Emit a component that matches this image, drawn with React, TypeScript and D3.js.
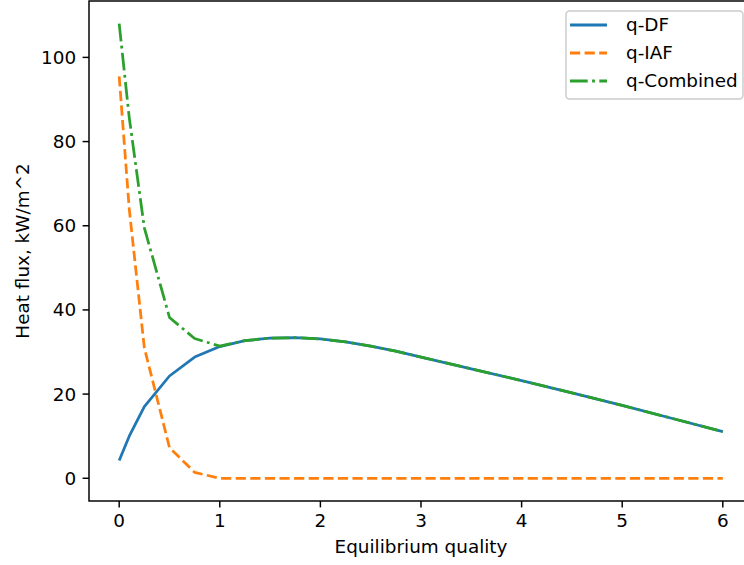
import React from "react";
import * as d3 from "d3";

const xQuality = [0, 0.1, 0.25, 0.5, 0.75, 1, 1.25, 1.5, 1.75, 2, 2.25, 2.5, 2.75, 3, 3.5, 4, 4.5, 5, 5.5, 6];
const qDF = [4.2, 10, 17, 24.3, 28.8, 31.3, 32.7, 33.3, 33.4, 33.1, 32.4, 31.4, 30.2, 28.8, 26.0, 23.2, 20.3, 17.3, 14.2, 11.1];
const qIAF = [95.5, 64, 31, 7.3, 1.4, 0, 0, 0, 0, 0, 0, 0, 0, 0, 0, 0, 0, 0, 0, 0];
const qCombined = [108, 85.7, 59.5, 38.2, 33.2, 31.4, 32.7, 33.3, 33.4, 33.1, 32.4, 31.4, 30.2, 28.8, 26.0, 23.2, 20.3, 17.3, 14.2, 11.1];

const xTicks = [0, 1, 2, 3, 4, 5, 6];
const yTicks = [0, 20, 40, 60, 80, 100];

const seriesNames = ["q-DF", "q-IAF", "q-Combined"];
const seriesColors = ["#1f77b4", "#ff7f0e", "#2ca02c"];
const seriesDash = ["none", "10.2 4.4", "17.7 4.4 2.8 4.4"];
const seriesData = [qDF, qIAF, qCombined];

const W = 744;
const H = 565;
const left = 89;
const right = 753;
const top = 1;
const bottom = 501;
const FS = 18.4;
const font = "'DejaVu Sans', sans-serif";

export default function App() {
  const allY = [...qDF, ...qIAF, ...qCombined];
  const yMin = d3.min(allY) as number;
  const yMax = d3.max(allY) as number;
  const yPad = (yMax - yMin) * 0.05;
  const x = d3.scaleLinear().domain([-0.3, 6.3]).range([left, right]);
  const y = d3.scaleLinear().domain([yMin - yPad, yMax + yPad]).range([bottom, top]);

  const line = (vals: number[]) =>
    d3
      .line<number>()
      .x((_, i) => x(xQuality[i]))
      .y((d) => y(d))(vals) as string;

  const tickLen = 6.4;
  const lgX = 566;
  const lgY = 11;
  const lgW = 177;
  const lgH = 88;

  return (
    <div style={{ position: "absolute", left: 0, top: 0 }}>
      <svg width={W} height={H} style={{ display: "block", background: "#fff" }} fontFamily={font}>
        <defs>
          <clipPath id="plotclip">
            <rect x={left} y={top} width={right - left} height={bottom - top} />
          </clipPath>
        </defs>
        <rect x={0} y={0} width={W} height={H} fill="#fff" />
        <g clipPath="url(#plotclip)">
          {seriesData.map((vals, i) => (
            <path
              key={seriesNames[i]}
              d={line(vals)}
              fill="none"
              stroke={seriesColors[i]}
              strokeWidth={2.76}
              strokeDasharray={seriesDash[i]}
              strokeLinejoin="round"
            />
          ))}
        </g>
        {/* spines */}
        <rect x={left} y={top} width={right - left} height={bottom - top} fill="none" stroke="#000" strokeWidth={1.47} />
        {/* x ticks */}
        {xTicks.map((t) => (
          <g key={"x" + t}>
            <line x1={x(t)} x2={x(t)} y1={bottom} y2={bottom + tickLen} stroke="#000" strokeWidth={1.47} />
            <text x={x(t)} y={bottom + tickLen + 6.4 + 13.5} fontSize={FS} textAnchor="middle" fill="#000">
              {t}
            </text>
          </g>
        ))}
        {/* y ticks */}
        {yTicks.map((t) => (
          <g key={"y" + t}>
            <line x1={left - tickLen} x2={left} y1={y(t)} y2={y(t)} stroke="#000" strokeWidth={1.47} />
            <text x={left - tickLen - 6.4} y={y(t)} dy="0.35em" fontSize={FS} textAnchor="end" fill="#000">
              {t}
            </text>
          </g>
        ))}
        <text x={(left + right) / 2} y={553} fontSize={FS} textAnchor="middle" fill="#000">
          Equilibrium quality
        </text>
        <text
          transform={`translate(${29},${(top + bottom) / 2}) rotate(-90)`}
          fontSize={FS}
          textAnchor="middle"
          fill="#000"
        >
          Heat flux, kW/m^2
        </text>
        {/* legend */}
        <rect x={lgX} y={lgY} width={lgW} height={lgH} rx={3.5} fill="#fff" fillOpacity={0.8} stroke="#cccccc" strokeWidth={1.47} />
        {seriesNames.map((n, i) => {
          const cy = 25 + i * 28;
          return (
            <g key={"lg" + n}>
              <line x1={570} x2={607} y1={cy} y2={cy} stroke={seriesColors[i]} strokeWidth={2.76} strokeDasharray={seriesDash[i]} />
              <text x={626} y={cy} dy="0.35em" fontSize={FS} fill="#000">
                {n}
              </text>
            </g>
          );
        })}
      </svg>
    </div>
  );
}
